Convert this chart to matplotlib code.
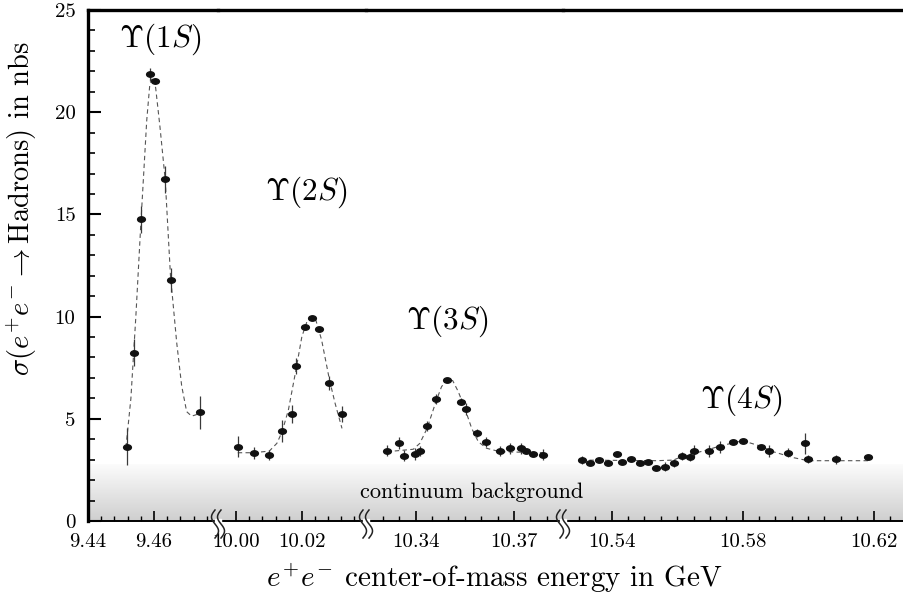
import numpy as np
import matplotlib
matplotlib.use('Agg')
import matplotlib.pyplot as plt
from matplotlib.path import Path
from matplotlib.patches import Rectangle
from matplotlib.lines import Line2D

plt.rcParams['font.family'] = 'serif'
plt.rcParams['font.serif'] = ['cmr10']
plt.rcParams['mathtext.fontset'] = 'cm'
plt.rcParams['axes.formatter.use_mathtext'] = True

# ---- data (energy in GeV, sigma in nb) ----
e1 = [9.4517, 9.4539, 9.4561, 9.4587, 9.4603, 9.4634, 9.4651, 9.4739]
s1 = [3.63, 8.23, 14.76, 21.85, 21.54, 16.72, 11.79, 5.32]
err1 = [0.9, 0.65, 0.65, 0.3, 0.15, 0.65, 0.6, 0.8]
fit1_e = [9.4515, 9.4530, 9.4545, 9.4560, 9.4578, 9.4587, 9.4595, 9.4605, 9.4618,
          9.4634, 9.4650, 9.4669, 9.4684, 9.4699, 9.4714, 9.4728, 9.4740]
fit1_s = [3.6, 6.0, 10.0, 14.5, 19.6, 21.3, 21.7, 21.2, 19.3,
          16.7, 12.0, 8.7, 6.6, 5.35, 5.13, 5.2, 5.4]

e2 = [10.0005, 10.0053, 10.0101, 10.0140, 10.0170, 10.0182, 10.0209, 10.0230,
      10.0251, 10.0284, 10.0322]
s2 = [3.64, 3.34, 3.21, 4.40, 5.23, 7.58, 9.47, 9.92, 9.38, 6.75, 5.23]
err2 = [0.5, 0.3, 0.25, 0.55, 0.45, 0.4, 0.1, 0.08, 0.1, 0.35, 0.4]
fit2_e = [10.0005, 10.0053, 10.0101, 10.0124, 10.0140, 10.0159, 10.0182, 10.0200,
          10.0217, 10.0230, 10.0243, 10.0260, 10.0284, 10.0301, 10.0322]
fit2_s = [3.34, 3.34, 3.42, 3.80, 4.37, 5.43, 7.39, 9.02, 9.83, 9.96, 9.80, 8.86,
          6.90, 5.76, 4.53]

e3 = [10.3313, 10.3350, 10.3366, 10.3398, 10.3414, 10.3435, 10.3462, 10.3495, 10.3537,
      10.3553, 10.3586, 10.3616, 10.3656, 10.3687, 10.3720, 10.3735, 10.3757, 10.3788]
s3 = [3.44, 3.80, 3.20, 3.28, 3.44, 4.63, 5.98, 6.90, 5.84, 5.46, 4.32, 3.88, 3.42,
      3.56, 3.56, 3.42, 3.26, 3.25]
err3 = [0.26, 0.29, 0.25, 0.28, 0.25, 0.25, 0.25, 0.08, 0.16, 0.29, 0.2, 0.25, 0.26,
        0.28, 0.28, 0.08, 0.05, 0.26]
fit3_e = [10.3313, 10.3393, 10.3413, 10.3435, 10.3462, 10.3479, 10.3495, 10.3513,
          10.3530, 10.3550, 10.3571, 10.3591, 10.3616, 10.3657, 10.3789]
fit3_s = [3.39, 3.51, 3.80, 4.53, 5.84, 6.57, 6.90, 6.87, 6.33, 5.51, 4.53, 3.88,
          3.56, 3.39, 3.34]

e4 = [10.5308, 10.5334, 10.5361, 10.5388, 10.5415, 10.5431, 10.5458, 10.5486, 10.5512,
      10.5535, 10.5564, 10.5591, 10.5614, 10.5639, 10.5651, 10.5696, 10.5732, 10.5769,
      10.5801, 10.5856, 10.5882, 10.5938, 10.5992, 10.6000, 10.6086, 10.6183]
s4 = [2.98, 2.82, 2.98, 2.85, 3.28, 2.90, 3.05, 2.82, 2.90, 2.61, 2.66, 2.82, 3.20,
      3.12, 3.42, 3.44, 3.64, 3.88, 3.93, 3.64, 3.42, 3.34, 3.80, 3.03, 3.03, 3.13]
err4 = [0.18, 0.05, 0.05, 0.05, 0.1, 0.05, 0.05, 0.05, 0.08, 0.08, 0.21, 0.2, 0.2,
        0.2, 0.29, 0.3, 0.29, 0.08, 0.05, 0.1, 0.28, 0.22, 0.5, 0.2, 0.22, 0.05]
fit4_e = [10.5308, 10.5537, 10.5588, 10.5614, 10.5690, 10.5731, 10.5800, 10.5853,
          10.5893, 10.5955, 10.6000, 10.6189]
fit4_s = [2.98, 2.95, 2.98, 3.15, 3.47, 3.67, 3.93, 3.67, 3.39, 3.10, 2.95, 2.95]

# axis pieces
seg_lims = [(9.44, 9.4794), (9.9945, 10.0395), (10.3249, 10.3849), (10.5251, 10.6293)]
seg_ticks = [[9.44, 9.46], [10.00, 10.02], [10.34, 10.37], [10.54, 10.58, 10.62]]
seg_ticklabels = [['9.44', '9.46'], ['10.00', '10.02'], ['10.34', '10.37'],
                  ['10.54', '10.58', '10.62']]
seg_minor = [(9.44, 0.004), (10.00, 0.004), (10.33, 0.005), (10.53, 0.005)]
y_ticks = [0, 5, 10, 15, 20, 25]
y_ticklabels = ['0', '5', '10', '15', '20', '25']

peak_names = [r'$\Upsilon(1S)$', r'$\Upsilon(2S)$', r'$\Upsilon(3S)$', r'$\Upsilon(4S)$']
peak_pos = [(9.4618, 23.55), (10.0213, 16.1), (10.3497, 9.75), (10.5795, 5.92)]
continuum_top = 2.75

W, H = 904, 599
fig = plt.figure(figsize=(W / 100, H / 100), dpi=100)
left, right, bottom, top = 88 / W, 1.0, 78 / H, 589 / H

# grey band for the continuum
bg = fig.add_axes([left, bottom, right - left, top - bottom], zorder=-1)
grad = np.linspace(0.81, 0.985, 200)[:, None]
bg.imshow(grad, extent=(0, 1, 0, continuum_top), aspect='auto', cmap='gray',
          vmin=0, vmax=1, origin='lower', interpolation='bilinear')
bg.set_xlim(0, 1)
bg.set_ylim(0, 25)
bg.axis('off')

gs = fig.add_gridspec(1, 4, width_ratios=[130, 148, 197, 341], left=left, right=right,
                      bottom=bottom, top=top, wspace=0)

# elliptic marker
circ = Path.unit_circle()
ell = Path(circ.vertices * np.array([1.0, 0.7]), circ.codes)

data = [(e1, s1, err1, fit1_e, fit1_s), (e2, s2, err2, fit2_e, fit2_s),
        (e3, s3, err3, fit3_e, fit3_s), (e4, s4, err4, fit4_e, fit4_s)]

axes = []
for i in range(4):
	ax = fig.add_subplot(gs[0, i])
	ax.set_facecolor('none')
	e, s, err, fe, fs = data[i]
	ax.plot(fe, fs, color='#555555', lw=0.8, ls=(0, (4, 3)))
	ax.errorbar(e, s, yerr=err, fmt='none', ecolor='#3a3a3a', elinewidth=0.9, capsize=0)
	ax.plot(e, s, ls='none', marker=ell, ms=5.6, color='#111111')

	ax.set_xlim(*seg_lims[i])
	ax.set_ylim(0, 25)
	ax.set_xticks(seg_ticks[i])
	ax.set_xticklabels(seg_ticklabels[i])
	start, step = seg_minor[i]
	ax.set_xticks(np.arange(start, seg_lims[i][1] - 1e-4, step), minor=True)
	ax.tick_params(axis='x', which='major', direction='in', length=7, width=1.2,
	               labelsize=15, pad=9)
	ax.tick_params(axis='x', which='minor', direction='in', length=3.5, width=1.0)

	ax.spines['right'].set_visible(False)
	ax.spines['top'].set_linewidth(2.4)
	ax.spines['bottom'].set_linewidth(1.4)
	if i == 0:
		ax.spines['left'].set_linewidth(2.4)
		ax.set_yticks(y_ticks)
		ax.set_yticklabels(y_ticklabels)
		ax.set_yticks(range(0, 26), minor=True)
		ax.tick_params(axis='y', which='major', direction='in', length=9, width=1.5,
		               labelsize=15, pad=9)
		ax.tick_params(axis='y', which='minor', direction='in', length=5, width=1.2)
	else:
		ax.spines['left'].set_visible(False)
		ax.tick_params(axis='y', which='both', left=False, labelleft=False)

	ax.text(peak_pos[i][0], peak_pos[i][1], peak_names[i], fontsize=22.5,
	        ha='center', va='center', clip_on=False)
	axes.append(ax)

axes[2].text(10.3571, 1.42, 'continuum background', fontsize=16, ha='center',
             va='center', clip_on=False)


# broken axis marks
def draw_break(xpx):
	t = np.linspace(-1, 1, 40)
	yy = (H - 524 + 14 * t) / H
	fig.add_artist(Rectangle(((xpx - 3) / W, (H - 523) / H), 6 / W, 4 / H,
	                         transform=fig.transFigure, color='white', zorder=3))
	for off in (-3, 3):
		xx = (xpx + off - 3.5 * np.sin(np.pi * t)) / W
		fig.add_artist(Line2D(xx, yy, transform=fig.transFigure, color='#222222',
		                      lw=1.1, zorder=4))


for xpx in (218, 366, 563):
	draw_break(xpx)

fig.text(494 / W, (H - 578) / H, r'$e^{\!+\!}e^{\!-\!}$ center-of-mass energy in GeV',
         fontsize=21, ha='center', va='center')
fig.text(22 / W, (H - 209) / H,
         r'$\sigma(e^{\!+\!}e^{\!-\!} \rightarrow \mathrm{Hadrons})$ in nbs',
         fontsize=20.5, ha='center', va='center', rotation=90)

fig.savefig('out.png', dpi=100)
